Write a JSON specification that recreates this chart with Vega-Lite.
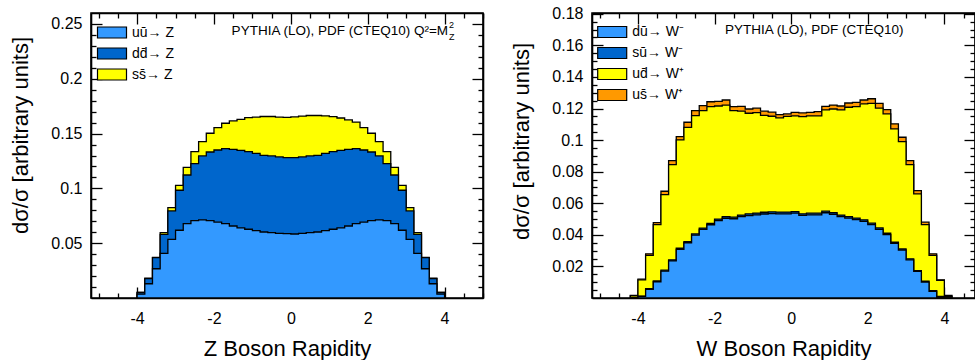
{
  "$schema": "https://vega.github.io/schema/vega-lite/v6.json",
  "padding": {"left": 9, "top": 4, "right": 0, "bottom": 0},
  "spacing": 25,
  "resolve": {"scale": {"x": "independent", "y": "independent", "color": "independent"}, "legend": {"color": "independent"}},
  "config": {
    "font": "Liberation Sans",
    "view": {"stroke": "#000", "strokeWidth": 1.6},
    "axis": {"domainColor": "#000", "domainWidth": 1.6, "tickColor": "#000", "tickWidth": 1.3, "labelColor": "#000", "labelFontSize": 16, "labelFont": "Liberation Sans", "titleFont": "Liberation Sans", "titleFontSize": 22, "titleFontWeight": "normal", "titleColor": "#000", "labelOverlap": false, "labelFlush": false, "labelPadding": 20, "grid": false},
    "axisBottom": {"labelPadding": 23, "titlePadding": 6},
    "legend": {"title": null, "symbolType": "M-1.45,-0.55L1.45,-0.55L1.45,0.55L-1.45,0.55Z", "symbolSize": 400, "symbolStrokeColor": "#000", "symbolStrokeWidth": 1.2, "symbolOpacity": 1, "labelFontSize": 14, "labelFont": "Liberation Sans", "labelColor": "#000", "rowPadding": 2, "labelOffset": 9, "padding": 0}
  },
  "hconcat": [
    {
      "width": 392,
      "height": 285,
      "data": {"values": [
        {"x": -4.0, "uu": 0.0035, "dd": 0.005, "ss": 0.0052},
        {"x": -3.8, "uu": 0.013, "dd": 0.0176, "ss": 0.018},
        {"x": -3.6, "uu": 0.0267, "dd": 0.0368, "ss": 0.037},
        {"x": -3.4, "uu": 0.0408, "dd": 0.058, "ss": 0.0596},
        {"x": -3.2, "uu": 0.0535, "dd": 0.0794, "ss": 0.0824},
        {"x": -3.0, "uu": 0.0618, "dd": 0.0983, "ss": 0.1028},
        {"x": -2.8, "uu": 0.0678, "dd": 0.1122, "ss": 0.1192},
        {"x": -2.6, "uu": 0.0705, "dd": 0.1225, "ss": 0.1335},
        {"x": -2.4, "uu": 0.0712, "dd": 0.1296, "ss": 0.1426},
        {"x": -2.2, "uu": 0.0705, "dd": 0.1332, "ss": 0.1503},
        {"x": -2.0, "uu": 0.0693, "dd": 0.135, "ss": 0.1554},
        {"x": -1.8, "uu": 0.0678, "dd": 0.1362, "ss": 0.1594},
        {"x": -1.6, "uu": 0.0657, "dd": 0.1356, "ss": 0.1615},
        {"x": -1.4, "uu": 0.0639, "dd": 0.1347, "ss": 0.163},
        {"x": -1.2, "uu": 0.0627, "dd": 0.1335, "ss": 0.1645},
        {"x": -1.0, "uu": 0.0614, "dd": 0.132, "ss": 0.165},
        {"x": -0.8, "uu": 0.0602, "dd": 0.1302, "ss": 0.1656},
        {"x": -0.6, "uu": 0.0596, "dd": 0.1296, "ss": 0.1656},
        {"x": -0.4, "uu": 0.059, "dd": 0.1287, "ss": 0.165},
        {"x": -0.2, "uu": 0.0587, "dd": 0.128, "ss": 0.1647},
        {"x": 0.0, "uu": 0.0584, "dd": 0.128, "ss": 0.1652},
        {"x": 0.2, "uu": 0.059, "dd": 0.1287, "ss": 0.166},
        {"x": 0.4, "uu": 0.0596, "dd": 0.1296, "ss": 0.1665},
        {"x": 0.6, "uu": 0.0602, "dd": 0.1302, "ss": 0.1665},
        {"x": 0.8, "uu": 0.0614, "dd": 0.132, "ss": 0.1662},
        {"x": 1.0, "uu": 0.0627, "dd": 0.1335, "ss": 0.1655},
        {"x": 1.2, "uu": 0.0639, "dd": 0.1347, "ss": 0.1642},
        {"x": 1.4, "uu": 0.0657, "dd": 0.1356, "ss": 0.1625},
        {"x": 1.6, "uu": 0.0678, "dd": 0.1362, "ss": 0.1605},
        {"x": 1.8, "uu": 0.0693, "dd": 0.135, "ss": 0.1554},
        {"x": 2.0, "uu": 0.0705, "dd": 0.1332, "ss": 0.1503},
        {"x": 2.2, "uu": 0.0712, "dd": 0.1296, "ss": 0.1426},
        {"x": 2.4, "uu": 0.0705, "dd": 0.1225, "ss": 0.1335},
        {"x": 2.6, "uu": 0.0678, "dd": 0.1122, "ss": 0.1192},
        {"x": 2.8, "uu": 0.0618, "dd": 0.0983, "ss": 0.1028},
        {"x": 3.0, "uu": 0.0535, "dd": 0.0794, "ss": 0.0824},
        {"x": 3.2, "uu": 0.0408, "dd": 0.058, "ss": 0.0596},
        {"x": 3.4, "uu": 0.0267, "dd": 0.0368, "ss": 0.037},
        {"x": 3.6, "uu": 0.013, "dd": 0.0176, "ss": 0.018},
        {"x": 3.8, "uu": 0.0035, "dd": 0.005, "ss": 0.0052},
        {"x": 4.0, "uu": 0, "dd": 0, "ss": 0}
      ]},
      "resolve": {"axis": {"x": "independent", "y": "independent"}},
      "layer": [
        {
          "mark": {"type": "area", "interpolate": "step-after", "stroke": "#000", "strokeWidth": 1.3},
          "encoding": {
            "x": {"field": "x", "type": "quantitative", "scale": {"domain": [-5.2, 5], "nice": false, "zero": false},
              "axis": {"orient": "bottom", "values": [-5, -4.5, -4, -3.5, -3, -2.5, -2, -1.5, -1, -0.5, 0, 0.5, 1, 1.5, 2, 2.5, 3, 3.5, 4, 4.5, 5],
                "tickSize": {"condition": {"test": "datum.value % 2 == 0", "value": -11}, "value": -5},
                "labelExpr": "datum.value % 2 == 0 ? '' + datum.value : ''", "title": "Z Boson Rapidity"}},
            "y": {"field": "ss", "type": "quantitative", "scale": {"domain": [0, 0.26], "nice": false},
              "axis": {"orient": "left", "values": [0.01, 0.02, 0.03, 0.04, 0.05, 0.06, 0.07, 0.08, 0.09, 0.1, 0.11, 0.12, 0.13, 0.14, 0.15, 0.16, 0.17, 0.18, 0.19, 0.2, 0.21, 0.22, 0.23, 0.24, 0.25],
                "tickSize": {"condition": {"test": "abs(datum.value*20 - round(datum.value*20)) < 1e-6", "value": -11}, "value": -5},
                "labelExpr": "abs(datum.value*20 - round(datum.value*20)) < 1e-6 ? '' + datum.value : ''",
                "title": "dσ/σ [arbitrary units]", "titleY": 122, "titlePadding": 18}},
            "color": {"datum": "ss\u0304\u2192 Z", "type": "nominal",
              "scale": {"domain": ["u\u016b\u2192 Z", "dd\u0304\u2192 Z", "ss\u0304\u2192 Z"], "range": ["#3399ff", "#0066cc", "#ffff00"]},
              "legend": {"orient": "none", "legendX": 10, "legendY": 8.5}}
          }
        },
        {
          "mark": {"type": "area", "interpolate": "step-after", "stroke": "#000", "strokeWidth": 1.3},
          "encoding": {
            "x": {"field": "x", "type": "quantitative", "axis": null},
            "y": {"field": "dd", "type": "quantitative", "axis": null},
            "color": {"datum": "dd\u0304\u2192 Z", "type": "nominal"}
          }
        },
        {
          "mark": {"type": "area", "interpolate": "step-after", "stroke": "#000", "strokeWidth": 1.3},
          "encoding": {
            "x": {"field": "x", "type": "quantitative", "axis": null},
            "y": {"field": "uu", "type": "quantitative", "axis": null},
            "color": {"datum": "u\u016b\u2192 Z", "type": "nominal"}
          }
        },
        {
          "mark": {"type": "point", "opacity": 0},
          "encoding": {
            "x": {"field": "x", "type": "quantitative",
              "axis": {"orient": "top", "values": [-5, -4.5, -4, -3.5, -3, -2.5, -2, -1.5, -1, -0.5, 0, 0.5, 1, 1.5, 2, 2.5, 3, 3.5, 4, 4.5, 5],
                "tickSize": {"condition": {"test": "datum.value % 2 == 0", "value": -11}, "value": -5}, "labels": false, "title": null}},
            "y": {"field": "uu", "type": "quantitative",
              "axis": {"orient": "right", "values": [0.01, 0.02, 0.03, 0.04, 0.05, 0.06, 0.07, 0.08, 0.09, 0.1, 0.11, 0.12, 0.13, 0.14, 0.15, 0.16, 0.17, 0.18, 0.19, 0.2, 0.21, 0.22, 0.23, 0.24, 0.25],
                "tickSize": {"condition": {"test": "abs(datum.value*20 - round(datum.value*20)) < 1e-6", "value": -11}, "value": -5}, "labels": false, "title": null}}
          }
        },
        {
          "data": {"values": [{"x": 4.09, "y": 0.2436, "t": "PYTHIA (LO), PDF (CTEQ10) Q\u00b2=M"}]},
          "mark": {"type": "text", "align": "right", "baseline": "middle", "fontSize": 13.5, "color": "#000"},
          "encoding": {
            "x": {"field": "x", "type": "quantitative", "axis": null},
            "y": {"field": "y", "type": "quantitative", "axis": null},
            "text": {"field": "t"}
          }
        },
        {
          "data": {"values": [{"x": 4.09, "y": 0.2488, "t": "2"}]},
          "mark": {"type": "text", "align": "left", "baseline": "middle", "fontSize": 9, "dx": 1, "color": "#000"},
          "encoding": {
            "x": {"field": "x", "type": "quantitative", "axis": null},
            "y": {"field": "y", "type": "quantitative", "axis": null},
            "text": {"field": "t"}
          }
        },
        {
          "data": {"values": [{"x": 4.09, "y": 0.2385, "t": "Z"}]},
          "mark": {"type": "text", "align": "left", "baseline": "middle", "fontSize": 9, "dx": 1, "color": "#000"},
          "encoding": {
            "x": {"field": "x", "type": "quantitative", "axis": null},
            "y": {"field": "y", "type": "quantitative", "axis": null},
            "text": {"field": "t"}
          }
        }
      ]
    },
    {
      "width": 383,
      "height": 285,
      "data": {"values": [
        {"x": -4.2, "uu": 0, "su": 0, "ud": 0.0013, "us": 0.0016},
        {"x": -4.0, "uu": 0.001, "su": 0.0012, "ud": 0.0115, "us": 0.0119},
        {"x": -3.8, "uu": 0.0055, "su": 0.006, "ud": 0.027, "us": 0.028},
        {"x": -3.6, "uu": 0.0103, "su": 0.0108, "ud": 0.0465, "us": 0.0478},
        {"x": -3.4, "uu": 0.017, "su": 0.0176, "ud": 0.0655, "us": 0.0676},
        {"x": -3.2, "uu": 0.0235, "su": 0.0242, "ud": 0.0845, "us": 0.087},
        {"x": -3.0, "uu": 0.0308, "su": 0.0315, "ud": 0.1001, "us": 0.1022},
        {"x": -2.8, "uu": 0.035, "su": 0.0357, "ud": 0.1081, "us": 0.1113},
        {"x": -2.6, "uu": 0.0398, "su": 0.0406, "ud": 0.1155, "us": 0.1187},
        {"x": -2.4, "uu": 0.0434, "su": 0.0443, "ud": 0.1187, "us": 0.1218},
        {"x": -2.2, "uu": 0.0464, "su": 0.0473, "ud": 0.1212, "us": 0.1243},
        {"x": -2.0, "uu": 0.049, "su": 0.05, "ud": 0.1216, "us": 0.1245},
        {"x": -1.8, "uu": 0.0505, "su": 0.0515, "ud": 0.1222, "us": 0.1254},
        {"x": -1.6, "uu": 0.0502, "su": 0.0512, "ud": 0.1187, "us": 0.1212},
        {"x": -1.4, "uu": 0.0515, "su": 0.0525, "ud": 0.1183, "us": 0.1214},
        {"x": -1.2, "uu": 0.0522, "su": 0.0533, "ud": 0.117, "us": 0.1197},
        {"x": -1.0, "uu": 0.0527, "su": 0.0538, "ud": 0.1174, "us": 0.1202},
        {"x": -0.8, "uu": 0.0532, "su": 0.0543, "ud": 0.1157, "us": 0.1183},
        {"x": -0.6, "uu": 0.0535, "su": 0.0546, "ud": 0.1151, "us": 0.1177},
        {"x": -0.4, "uu": 0.0533, "su": 0.0544, "ud": 0.1141, "us": 0.1162},
        {"x": -0.2, "uu": 0.0533, "su": 0.0544, "ud": 0.115, "us": 0.1166},
        {"x": 0.0, "uu": 0.0537, "su": 0.0547, "ud": 0.1153, "us": 0.1176},
        {"x": 0.2, "uu": 0.0523, "su": 0.0533, "ud": 0.1149, "us": 0.1172},
        {"x": 0.4, "uu": 0.0527, "su": 0.0537, "ud": 0.1153, "us": 0.1176},
        {"x": 0.6, "uu": 0.0527, "su": 0.0537, "ud": 0.1153, "us": 0.118},
        {"x": 0.8, "uu": 0.054, "su": 0.055, "ud": 0.1191, "us": 0.1214},
        {"x": 1.0, "uu": 0.053, "su": 0.054, "ud": 0.1197, "us": 0.1222},
        {"x": 1.2, "uu": 0.0515, "su": 0.0525, "ud": 0.1191, "us": 0.1216},
        {"x": 1.4, "uu": 0.0506, "su": 0.0516, "ud": 0.1208, "us": 0.1235},
        {"x": 1.6, "uu": 0.0496, "su": 0.0506, "ud": 0.1212, "us": 0.1239},
        {"x": 1.8, "uu": 0.0485, "su": 0.0495, "ud": 0.1229, "us": 0.1254},
        {"x": 2.0, "uu": 0.0465, "su": 0.0474, "ud": 0.1233, "us": 0.1262},
        {"x": 2.2, "uu": 0.0435, "su": 0.0444, "ud": 0.1202, "us": 0.1233},
        {"x": 2.4, "uu": 0.0402, "su": 0.041, "ud": 0.1166, "us": 0.1193},
        {"x": 2.6, "uu": 0.0346, "su": 0.0353, "ud": 0.1071, "us": 0.1103},
        {"x": 2.8, "uu": 0.0304, "su": 0.0311, "ud": 0.0991, "us": 0.1018},
        {"x": 3.0, "uu": 0.0242, "su": 0.0248, "ud": 0.0845, "us": 0.087},
        {"x": 3.2, "uu": 0.0168, "su": 0.0174, "ud": 0.0659, "us": 0.068},
        {"x": 3.4, "uu": 0.0101, "su": 0.0106, "ud": 0.0465, "us": 0.048},
        {"x": 3.6, "uu": 0.0042, "su": 0.0047, "ud": 0.027, "us": 0.028},
        {"x": 3.8, "uu": 0.0007, "su": 0.001, "ud": 0.0111, "us": 0.0115},
        {"x": 4.0, "uu": 0, "su": 0, "ud": 0.001, "us": 0.0016},
        {"x": 4.2, "uu": 0, "su": 0, "ud": 0, "us": 0}
      ]},
      "resolve": {"axis": {"x": "independent", "y": "independent"}},
      "layer": [
        {
          "mark": {"type": "area", "interpolate": "step-after", "stroke": "#000", "strokeWidth": 1.3},
          "encoding": {
            "x": {"field": "x", "type": "quantitative", "scale": {"domain": [-5.2, 4.8], "nice": false, "zero": false},
              "axis": {"orient": "bottom", "values": [-5, -4.5, -4, -3.5, -3, -2.5, -2, -1.5, -1, -0.5, 0, 0.5, 1, 1.5, 2, 2.5, 3, 3.5, 4, 4.5],
                "tickSize": {"condition": {"test": "datum.value % 2 == 0", "value": -11}, "value": -5},
                "labelExpr": "datum.value % 2 == 0 ? '' + datum.value : ''", "title": "W Boson Rapidity"}},
            "y": {"field": "us", "type": "quantitative", "scale": {"domain": [0, 0.1805], "nice": false},
              "axis": {"orient": "left", "values": [0.005, 0.01, 0.015, 0.02, 0.025, 0.03, 0.035, 0.04, 0.045, 0.05, 0.055, 0.06, 0.065, 0.07, 0.075, 0.08, 0.085, 0.09, 0.095, 0.1, 0.105, 0.11, 0.115, 0.12, 0.125, 0.13, 0.135, 0.14, 0.145, 0.15, 0.155, 0.16, 0.165, 0.17, 0.175, 0.18],
                "tickSize": {"condition": {"test": "abs(datum.value*50 - round(datum.value*50)) < 1e-6", "value": -11}, "value": -5},
                "labelExpr": "abs(datum.value*50 - round(datum.value*50)) < 1e-6 ? '' + datum.value : ''",
                "title": "dσ/σ [arbitrary units]", "titleY": 128, "titlePadding": 18}},
            "color": {"datum": "us\u0304\u2192 W\u207a", "type": "nominal",
              "scale": {"domain": ["d\u016b\u2192 W\u207b", "s\u016b\u2192 W\u207b", "ud\u0304\u2192 W\u207a", "us\u0304\u2192 W\u207a"], "range": ["#3399ff", "#0066cc", "#ffff00", "#ff9900"]},
              "legend": {"orient": "none", "legendX": 9.2, "legendY": 8}}
          }
        },
        {
          "mark": {"type": "area", "interpolate": "step-after", "stroke": "#000", "strokeWidth": 1.3},
          "encoding": {
            "x": {"field": "x", "type": "quantitative", "axis": null},
            "y": {"field": "ud", "type": "quantitative", "axis": null},
            "color": {"datum": "ud\u0304\u2192 W\u207a", "type": "nominal"}
          }
        },
        {
          "mark": {"type": "area", "interpolate": "step-after", "stroke": "#000", "strokeWidth": 1.3},
          "encoding": {
            "x": {"field": "x", "type": "quantitative", "axis": null},
            "y": {"field": "su", "type": "quantitative", "axis": null},
            "color": {"datum": "s\u016b\u2192 W\u207b", "type": "nominal"}
          }
        },
        {
          "mark": {"type": "area", "interpolate": "step-after", "stroke": "#000", "strokeWidth": 1.3},
          "encoding": {
            "x": {"field": "x", "type": "quantitative", "axis": null},
            "y": {"field": "uu", "type": "quantitative", "axis": null},
            "color": {"datum": "d\u016b\u2192 W\u207b", "type": "nominal"}
          }
        },
        {
          "mark": {"type": "point", "opacity": 0},
          "encoding": {
            "x": {"field": "x", "type": "quantitative",
              "axis": {"orient": "top", "values": [-5, -4.5, -4, -3.5, -3, -2.5, -2, -1.5, -1, -0.5, 0, 0.5, 1, 1.5, 2, 2.5, 3, 3.5, 4, 4.5],
                "tickSize": {"condition": {"test": "datum.value % 2 == 0", "value": -11}, "value": -5}, "labels": false, "title": null}},
            "y": {"field": "uu", "type": "quantitative",
              "axis": {"orient": "right", "values": [0.005, 0.01, 0.015, 0.02, 0.025, 0.03, 0.035, 0.04, 0.045, 0.05, 0.055, 0.06, 0.065, 0.07, 0.075, 0.08, 0.085, 0.09, 0.095, 0.1, 0.105, 0.11, 0.115, 0.12, 0.125, 0.13, 0.135, 0.14, 0.145, 0.15, 0.155, 0.16, 0.165, 0.17, 0.175, 0.18],
                "tickSize": {"condition": {"test": "abs(datum.value*50 - round(datum.value*50)) < 1e-6", "value": -11}, "value": -5}, "labels": false, "title": null}}
          }
        },
        {
          "data": {"values": [{"x": -1.73, "y": 0.1697, "t": "PYTHIA (LO), PDF (CTEQ10)"}]},
          "mark": {"type": "text", "align": "left", "baseline": "middle", "fontSize": 13.5, "color": "#000"},
          "encoding": {
            "x": {"field": "x", "type": "quantitative", "axis": null},
            "y": {"field": "y", "type": "quantitative", "axis": null},
            "text": {"field": "t"}
          }
        }
      ]
    }
  ]
}
